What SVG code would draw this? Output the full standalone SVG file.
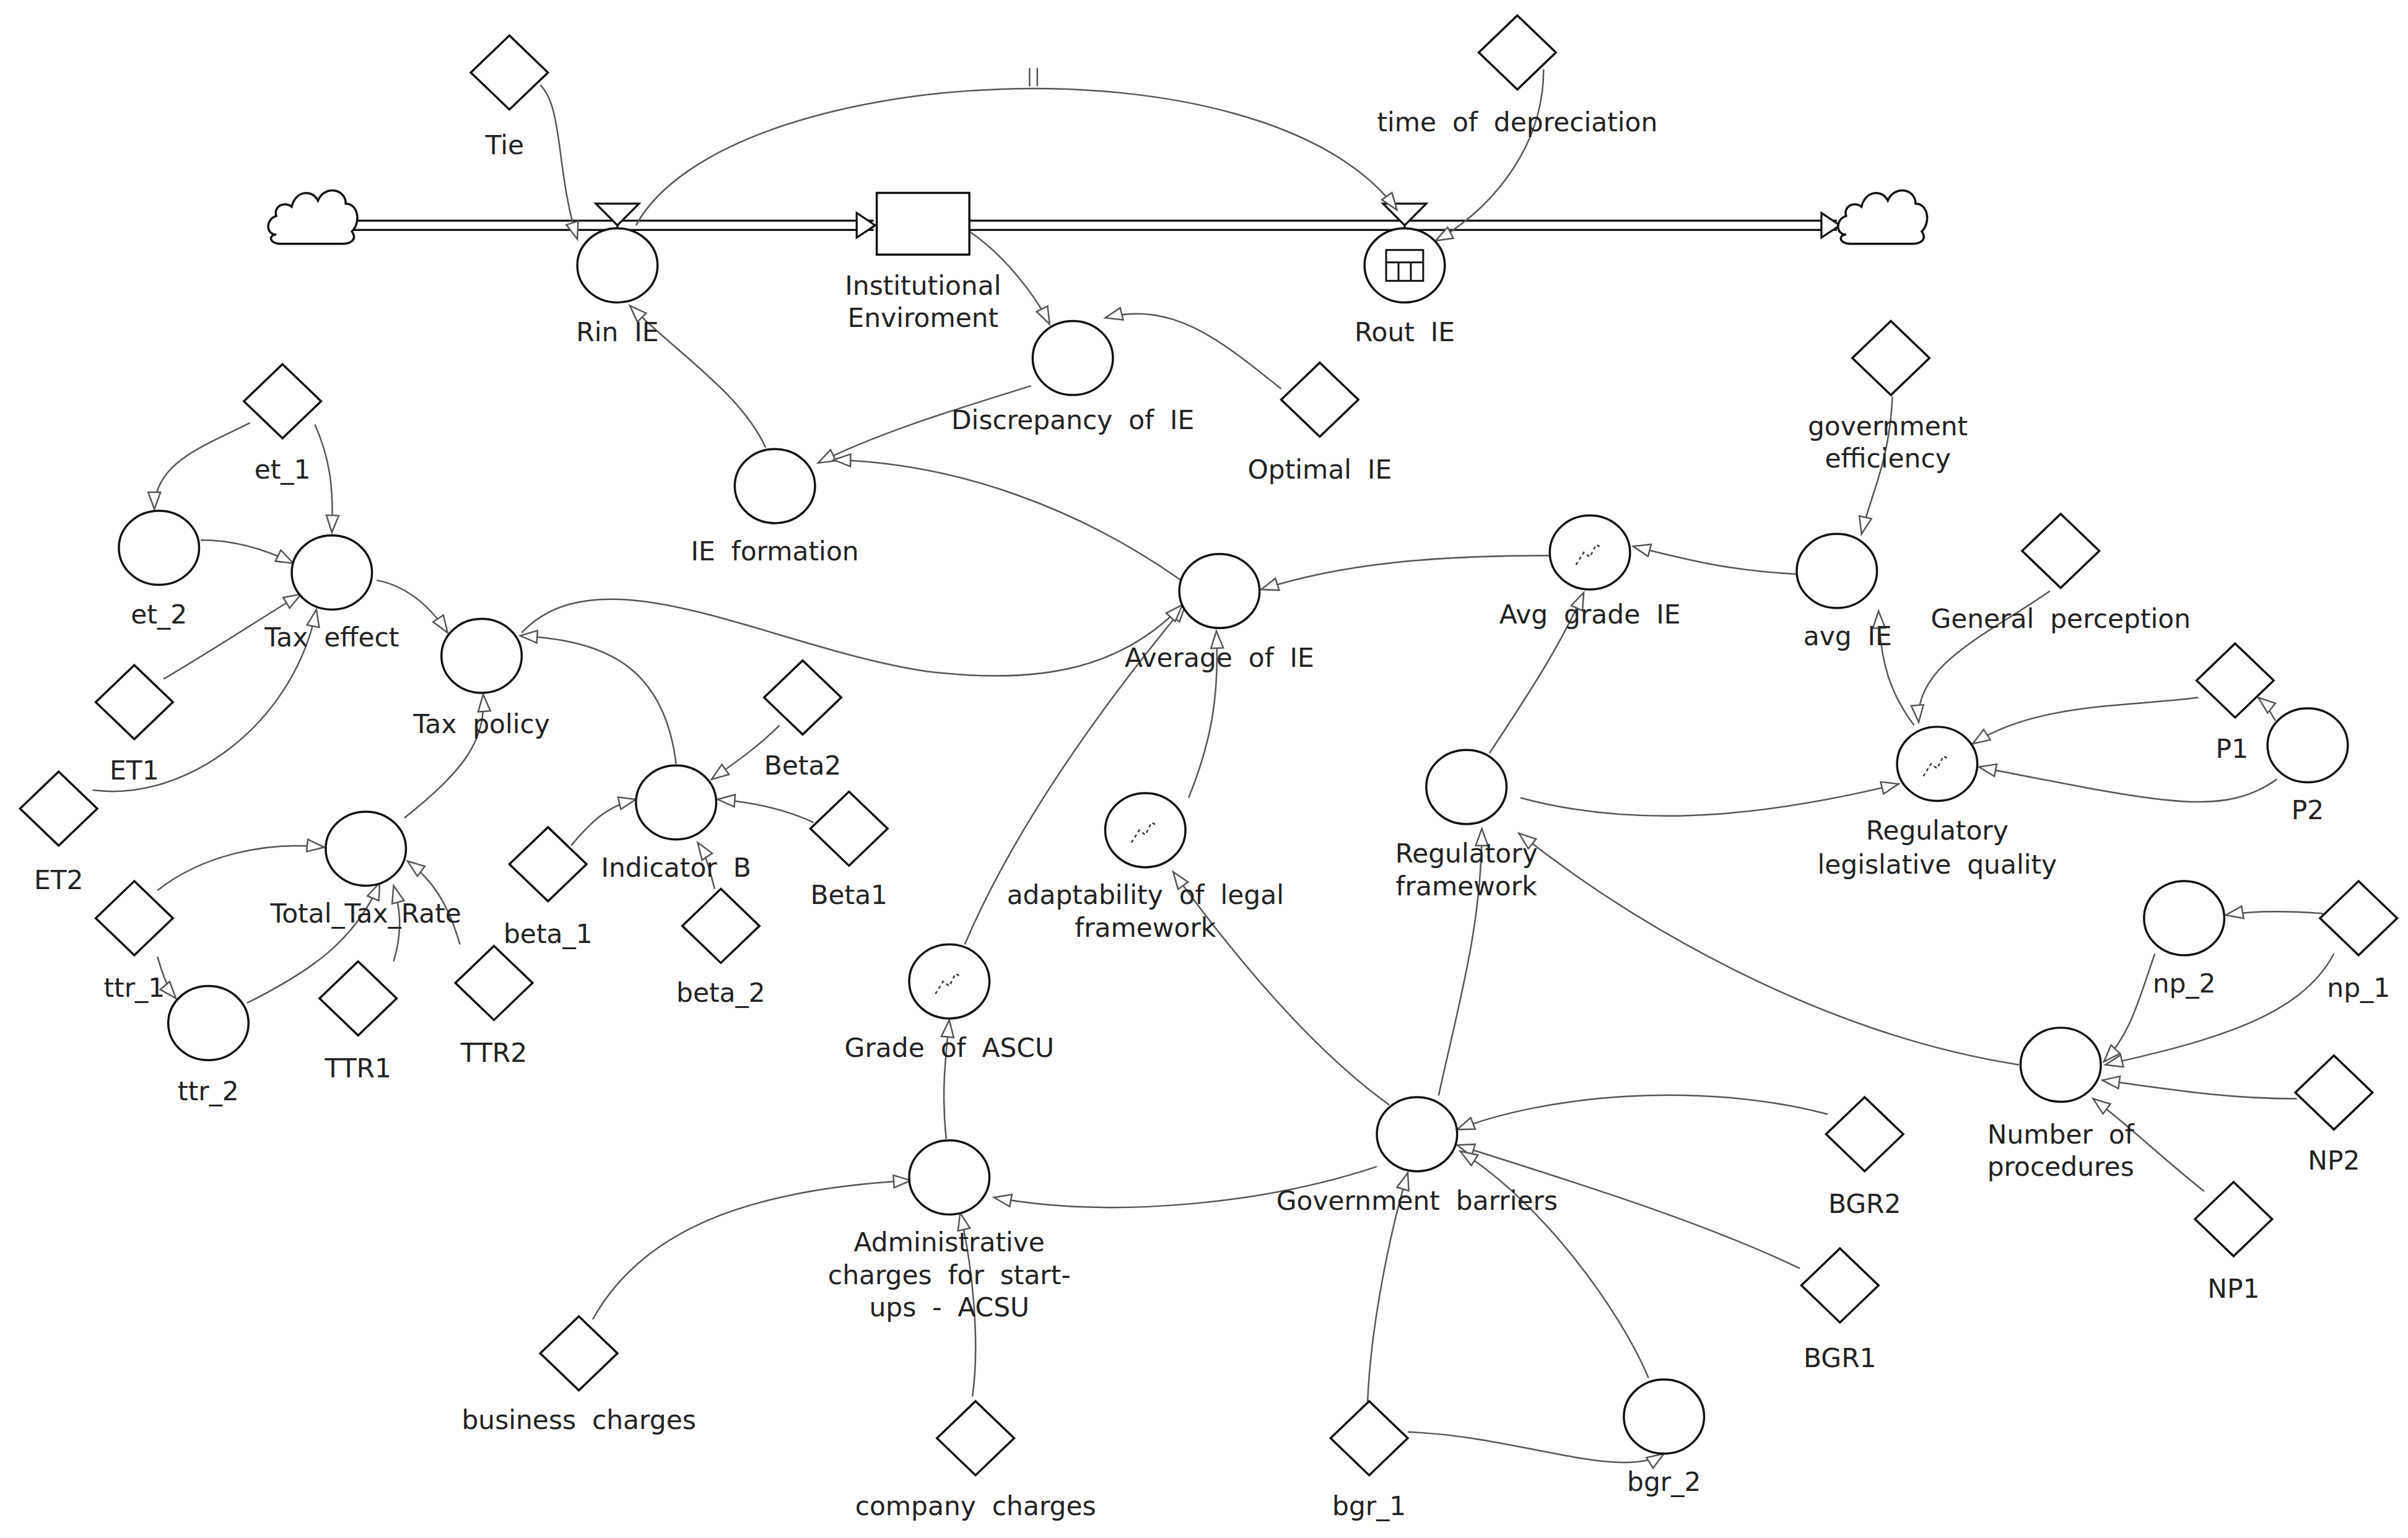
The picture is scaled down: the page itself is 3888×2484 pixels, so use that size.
<svg xmlns="http://www.w3.org/2000/svg" width="3888" height="2484" viewBox="0 0 3888 2484">
<style>
.n{fill:#fff;stroke:#111;stroke-width:1.4}
.d{fill:#fff;stroke:#111;stroke-width:1.4}
.t{font-family:"DejaVu Sans",Verdana,sans-serif;font-size:17px;fill:#222;text-anchor:middle;word-spacing:5px}
.c{fill:none;stroke:#555;stroke-width:1;marker-end:url(#a)}
.ic{fill:none;stroke:#333;stroke-width:1;stroke-dasharray:2 2}
</style>
<defs>
<marker id="a" markerUnits="userSpaceOnUse" markerWidth="14" markerHeight="10" refX="12" refY="5" orient="auto" viewBox="0 0 14 10">
<path d="M1,1 L12,5 L1,9 Z" fill="#fff" stroke="#555" stroke-width="1"/>
</marker>
<g id="cl"><path d="M-25,12 C-32,12 -32,2 -25,0 C-27,-6 -20,-10 -15,-6 C-13,-16 -2,-18 2,-10 C6,-20 20,-18 20,-8 C28,-8 30,4 24,10 C28,16 22,18 18,18 L-22,18 C-30,18 -30,12 -25,12 Z" fill="#fff" stroke="#111" stroke-width="1.4"/></g>
<g id="gi"><path d="M-9,8 L-4,0 L0,3 L4,-5 L8,-3" class="ic"/></g>
</defs>
<rect width="3888" height="2484" fill="#fff"/>
<g transform="scale(2.4923)">
<g id="connectors">
<!-- pipes -->
<path d="M228,143 H566 M228,149 H566" stroke="#111" stroke-width="1.3" fill="none"/>
<path d="M555,138 L567,146 L555,154 Z" fill="#fff" stroke="#111" stroke-width="1.3"/>
<path d="M628,143 H1190 M628,149 H1190" stroke="#111" stroke-width="1.3" fill="none"/>
<path d="M1180,138 L1192,146 L1180,154 Z" fill="#fff" stroke="#111" stroke-width="1.3"/>
<path d="M386,132 L414,132 L400,146 Z" fill="#fff" stroke="#111" stroke-width="1.3"/>
<path d="M896,132 L924,132 L910,146 Z" fill="#fff" stroke="#111" stroke-width="1.3"/>
<path d="M400,146 V148 M910,146 V148" stroke="#111" stroke-width="1.3"/>
<!-- info links -->
<path class="c" d="M412,146 C470,40 820,20 905,136"/>
<path d="M667,44 V56 M672,44 V56" stroke="#555" stroke-width="1"/>
<path class="c" d="M350,55 C365,70 360,110 374,155"/>
<path class="c" d="M1000,45 C1000,100 960,140 930,156"/>
<path class="c" d="M628,150 C650,165 670,190 680,210"/>
<path class="c" d="M830,252 C790,220 760,195 716,206"/>
<path class="c" d="M668,250 C620,265 570,280 530,300"/>
<path class="c" d="M496,290 C480,255 440,230 408,198"/>
<path class="c" d="M765,376 C700,330 620,300 540,298"/>
<path class="c" d="M1004,360 C930,360 870,365 817,382"/>
<path class="c" d="M1164,372 C1120,370 1090,362 1058,354"/>
<path class="c" d="M1226,257 C1224,300 1212,320 1206,346"/>
<path class="c" d="M1240,470 C1225,450 1218,430 1217,396"/>
<path class="c" d="M1328,383 C1290,410 1240,430 1243,468"/>
<path class="c" d="M1424,452 C1380,458 1320,455 1278,482"/>
<path class="c" d="M1474,467 C1470,460 1468,456 1463,452"/>
<path class="c" d="M1475,505 C1440,530 1400,520 1282,497"/>
<path class="c" d="M965,488 C990,450 1010,420 1026,384"/>
<path class="c" d="M985,517 C1070,540 1160,525 1230,508"/>
<path class="c" d="M1308,690 C1180,670 1060,600 984,540"/>
<path class="c" d="M1505,592 C1480,590 1460,590 1442,593"/>
<path class="c" d="M1512,618 C1490,660 1430,675 1364,690"/>
<path class="c" d="M1396,618 C1385,650 1380,670 1363,688"/>
<path class="c" d="M1488,712 C1440,712 1400,705 1362,700"/>
<path class="c" d="M1428,772 C1400,750 1380,730 1356,712"/>
<path class="c" d="M932,710 C945,650 960,600 960,537"/>
<path class="c" d="M900,716 C850,680 800,620 760,565"/>
<path class="c" d="M892,756 C820,780 720,790 644,776"/>
<path class="c" d="M1184,722 C1100,700 1000,710 944,732"/>
<path class="c" d="M1166,822 C1100,790 1000,760 944,742"/>
<path class="c" d="M1068,893 C1050,850 1000,780 946,746"/>
<path class="c" d="M886,908 C888,860 900,800 912,760"/>
<path class="c" d="M912,928 C980,930 1050,960 1078,942"/>
<path class="c" d="M770,517 C785,480 790,450 788,409"/>
<path class="c" d="M625,612 C660,530 720,450 768,392"/>
<path class="c" d="M613,738 C610,710 612,690 615,661"/>
<path class="c" d="M384,855 C420,790 500,770 590,765"/>
<path class="c" d="M630,905 C635,870 630,820 622,786"/>
<path class="c" d="M338,410 C390,355 500,420 600,435 C680,445 730,430 766,392"/>
<path class="c" d="M438,495 C430,430 390,415 337,412"/>
<path class="c" d="M505,470 C490,485 475,495 461,505"/>
<path class="c" d="M527,533 C510,525 490,520 465,518"/>
<path class="c" d="M370,548 C385,530 395,522 412,518"/>
<path class="c" d="M463,576 C460,565 458,555 452,546"/>
<path class="c" d="M262,530 C300,500 315,480 313,450"/>
<path class="c" d="M102,577 C130,555 170,545 210,549"/>
<path class="c" d="M102,620 C105,630 108,640 114,647"/>
<path class="c" d="M160,650 C200,630 230,610 246,572"/>
<path class="c" d="M255,623 C262,600 258,585 255,574"/>
<path class="c" d="M298,612 C290,585 280,570 264,558"/>
<path class="c" d="M162,274 C130,290 100,300 100,330"/>
<path class="c" d="M204,275 C215,300 216,320 215,345"/>
<path class="c" d="M130,350 C150,350 170,355 190,365"/>
<path class="c" d="M106,440 C140,420 170,400 195,385"/>
<path class="c" d="M60,512 C120,520 190,470 205,395"/>
<path class="c" d="M244,376 C265,380 280,395 290,410"/>
</g>
<use href="#cl" x="204" y="140"/>
<use href="#cl" x="1221" y="140"/>
<g id="stock"><rect x="568" y="125" width="60" height="40" class="n"/><text class="t" x="598" y="191">Institutional</text><text class="t" x="598" y="212">Enviroment</text></g>
<g id="rin"><ellipse cx="400" cy="172" rx="26" ry="24" class="n"/><text class="t" x="400" y="221">Rin IE</text></g>
<g id="rout"><ellipse cx="910" cy="172" rx="26" ry="24" class="n"/><rect x="898" y="162" width="24" height="20" fill="none" stroke="#111" stroke-width="1.2"/><path d="M898,170 H922 M906,170 V182 M914,170 V182" stroke="#111" stroke-width="1.2"/><text class="t" x="910" y="221">Rout IE</text></g>
<g id="tie"><path d="M330,23 L355,47 L330,71 L305,47 Z" class="d"/><text class="t" x="327" y="100">Tie</text></g>
<g id="tod"><path d="M983,10 L1008,34 L983,58 L958,34 Z" class="d"/><text class="t" x="983" y="85">time of depreciation</text></g>
<g id="disc"><ellipse cx="695" cy="232" rx="26" ry="24" class="n"/><text class="t" x="695" y="278">Discrepancy of IE</text></g>
<g id="opt"><path d="M855,235 L880,259 L855,283 L830,259 Z" class="d"/><text class="t" x="855" y="310">Optimal IE</text></g>
<g id="ief"><ellipse cx="502" cy="315" rx="26" ry="24" class="n"/><text class="t" x="502" y="363">IE formation</text></g>
<g id="avg"><ellipse cx="790" cy="383" rx="26" ry="24" class="n"/><text class="t" x="790" y="432">Average of IE</text></g>
<g id="agi"><ellipse cx="1030" cy="358" rx="26" ry="24" class="n"/><use href="#gi" x="1030" y="358"/><text class="t" x="1030" y="404">Avg grade IE</text></g>
<g id="avgie"><ellipse cx="1190" cy="370" rx="26" ry="24" class="n"/><text class="t" x="1197" y="418">avg IE</text></g>
<g id="ge"><path d="M1225,208 L1250,232 L1225,256 L1200,232 Z" class="d"/><text class="t" x="1223" y="282">government</text><text class="t" x="1223" y="303">efficiency</text></g>
<g id="gp"><path d="M1335,333 L1360,357 L1335,381 L1310,357 Z" class="d"/><text class="t" x="1335" y="407">General perception</text></g>
<g id="rlq"><ellipse cx="1255" cy="495" rx="26" ry="24" class="n"/><use href="#gi" x="1255" y="495"/><text class="t" x="1255" y="544">Regulatory</text><text class="t" x="1255" y="566">legislative quality</text></g>
<g id="p1"><path d="M1448,417 L1473,441 L1448,465 L1423,441 Z" class="d"/><text class="t" x="1446" y="491">P1</text></g>
<g id="p2"><ellipse cx="1495" cy="483" rx="26" ry="24" class="n"/><text class="t" x="1495" y="531">P2</text></g>
<g id="rf"><ellipse cx="950" cy="510" rx="26" ry="24" class="n"/><text class="t" x="950" y="559">Regulatory</text><text class="t" x="950" y="580">framework</text></g>
<g id="nop"><ellipse cx="1335" cy="690" rx="26" ry="24" class="n"/><text class="t" x="1335" y="741">Number of</text><text class="t" x="1335" y="762">procedures</text></g>
<g id="np2"><ellipse cx="1415" cy="595" rx="26" ry="24" class="n"/><text class="t" x="1415" y="643">np_2</text></g>
<g id="np1"><path d="M1528,571 L1553,595 L1528,619 L1503,595 Z" class="d"/><text class="t" x="1528" y="646">np_1</text></g>
<g id="NP2"><path d="M1512,684 L1537,708 L1512,732 L1487,708 Z" class="d"/><text class="t" x="1512" y="758">NP2</text></g>
<g id="NP1"><path d="M1447,766 L1472,790 L1447,814 L1422,790 Z" class="d"/><text class="t" x="1447" y="841">NP1</text></g>
<g id="gb"><ellipse cx="918" cy="735" rx="26" ry="24" class="n"/><text class="t" x="918" y="784">Government barriers</text></g>
<g id="BGR2"><path d="M1208,711 L1233,735 L1208,759 L1183,735 Z" class="d"/><text class="t" x="1208" y="786">BGR2</text></g>
<g id="BGR1"><path d="M1192,809 L1217,833 L1192,857 L1167,833 Z" class="d"/><text class="t" x="1192" y="886">BGR1</text></g>
<g id="bgr2"><ellipse cx="1078" cy="918" rx="26" ry="24" class="n"/><text class="t" x="1078" y="966">bgr_2</text></g>
<g id="bgr1"><path d="M887,908 L912,932 L887,956 L862,932 Z" class="d"/><text class="t" x="887" y="982">bgr_1</text></g>
<g id="alf"><ellipse cx="742" cy="538" rx="26" ry="24" class="n"/><use href="#gi" x="742" y="538"/><text class="t" x="742" y="586">adaptability of legal</text><text class="t" x="742" y="607">framework</text></g>
<g id="gas"><ellipse cx="615" cy="636" rx="26" ry="24" class="n"/><use href="#gi" x="615" y="636"/><text class="t" x="615" y="685">Grade of ASCU</text></g>
<g id="acsu"><ellipse cx="615" cy="763" rx="26" ry="24" class="n"/><text class="t" x="615" y="811">Administrative</text><text class="t" x="615" y="832">charges for start-</text><text class="t" x="615" y="853">ups - ACSU</text></g>
<g id="bc"><path d="M375,853 L400,877 L375,901 L350,877 Z" class="d"/><text class="t" x="375" y="926">business charges</text></g>
<g id="cc"><path d="M632,908 L657,932 L632,956 L607,932 Z" class="d"/><text class="t" x="632" y="982">company charges</text></g>
<g id="et1"><path d="M183,236 L208,260 L183,284 L158,260 Z" class="d"/><text class="t" x="183" y="310">et_1</text></g>
<g id="et2"><ellipse cx="103" cy="355" rx="26" ry="24" class="n"/><text class="t" x="103" y="404">et_2</text></g>
<g id="te"><ellipse cx="215" cy="371" rx="26" ry="24" class="n"/><text class="t" x="215" y="419">Tax effect</text></g>
<g id="ET1"><path d="M87,431 L112,455 L87,479 L62,455 Z" class="d"/><text class="t" x="87" y="505">ET1</text></g>
<g id="ET2"><path d="M38,500 L63,524 L38,548 L13,524 Z" class="d"/><text class="t" x="38" y="576">ET2</text></g>
<g id="tp"><ellipse cx="312" cy="425" rx="26" ry="24" class="n"/><text class="t" x="312" y="475">Tax policy</text></g>
<g id="ib"><ellipse cx="438" cy="520" rx="26" ry="24" class="n"/><text class="t" x="438" y="568">Indicator B</text></g>
<g id="b2"><path d="M520,428 L545,452 L520,476 L495,452 Z" class="d"/><text class="t" x="520" y="502">Beta2</text></g>
<g id="b1"><path d="M550,513 L575,537 L550,561 L525,537 Z" class="d"/><text class="t" x="550" y="586">Beta1</text></g>
<g id="bt1"><path d="M355,536 L380,560 L355,584 L330,560 Z" class="d"/><text class="t" x="355" y="611">beta_1</text></g>
<g id="bt2"><path d="M467,576 L492,600 L467,624 L442,600 Z" class="d"/><text class="t" x="467" y="649">beta_2</text></g>
<g id="ttr"><ellipse cx="237" cy="550" rx="26" ry="24" class="n"/><text class="t" x="237" y="598">Total_Tax_Rate</text></g>
<g id="ttr1"><path d="M87,571 L112,595 L87,619 L62,595 Z" class="d"/><text class="t" x="87" y="646">ttr_1</text></g>
<g id="ttr2"><ellipse cx="135" cy="663" rx="26" ry="24" class="n"/><text class="t" x="135" y="713">ttr_2</text></g>
<g id="TTR1"><path d="M232,623 L257,647 L232,671 L207,647 Z" class="d"/><text class="t" x="232" y="698">TTR1</text></g>
<g id="TTR2"><path d="M320,613 L345,637 L320,661 L295,637 Z" class="d"/><text class="t" x="320" y="688">TTR2</text></g>
</g>
</svg>
